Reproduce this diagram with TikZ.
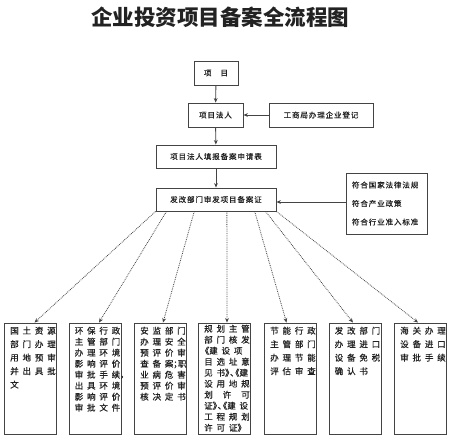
\documentclass[tikz,border=0pt]{standalone}
\usepackage{fontspec}
\newfontfamily\cjk{Noto Sans CJK SC}
\newfontfamily\cjkA[LetterSpace=12,FakeBold=0.6]{Noto Sans CJK SC}
\newfontfamily\cjkB[LetterSpace=45,FakeBold=0.6]{Noto Sans CJK SC}
\newfontfamily\cjkP[FakeBold=0.6]{Noto Sans CJK SC}
\usetikzlibrary{arrows.meta,calc}
\definecolor{ln}{HTML}{444444}
\definecolor{tx}{HTML}{222222}
\newcommand\pL[1]{\makebox[5pt][r]{\cjkP #1}}
\newcommand\pR[1]{\makebox[5pt][l]{\cjkP #1}}
\newcommand\pC[1]{\makebox[4.5pt][l]{\cjkP #1}}
\begin{document}
\begin{tikzpicture}[x=1pt,y=-1pt,
  box/.style={draw=ln,line width=0.9pt,inner sep=0pt,text=tx},
  tbox/.style={box,font=\cjkA\fontsize{7.5}{9}\selectfont,minimum height=24pt},
  bbox/.style={box,minimum width=52pt,minimum height=111pt},
  btxt/.style={anchor=north west,inner sep=0pt,align=left,text=tx,font=\cjkB\fontsize{8.5}{13.5}\selectfont},
  btxtn/.style={btxt,font=\cjkB\fontsize{8.5}{11}\selectfont},
  sarr/.style={draw=ln,line width=0.9pt,-{Stealth[length=4.5pt,width=3.8pt]}},
  darr/.style={draw=ln,line width=0.8pt,densely dotted,-{Stealth[length=4.5pt,width=3.8pt]}}]
\useasboundingbox[fill=white] (0,0) rectangle (450,437);

\node[text=tx,font=\cjk\bfseries\fontsize{21.5}{22}\selectfont] (title) at (220,17) {企业投资项目备案全流程图};

\node[tbox,minimum width=44pt] (xm) at (216,73) {项\hspace{9pt}目};
\node[tbox,minimum width=55pt] (fr) at (215.5,115) {项目法人};
\node[tbox,minimum width=104pt] (gs) at (321,115) {工商局办理企业登记};
\node[tbox,minimum width=120pt,minimum height=23pt] (tb) at (216,156.5) {项目法人填报备案申请表};
\node[tbox,minimum width=120pt,minimum height=23pt] (fg) at (216,199.5) {发改部门审发项目备案证};
\node[box,minimum width=81pt,minimum height=61pt,align=left,text width=69pt,inner xsep=6pt,
      font=\cjkA\fontsize{7.5}{18.5}\selectfont] (fh) at (386.5,203.5)
      {符合国家法律法规\\符合产业政策\\符合行业准入标准};

\draw[sarr] (xm) -- (fr);
\draw[sarr] (gs) -- (fr);
\draw[sarr] (fr) -- (tb);
\draw[sarr] (tb) -- (fg);
\draw[sarr] (fh.west |- 0,202) -- (fg.east |- 0,202);

\node[bbox] (b1) at (30.5,378.5) {};
\node[bbox] (b2) at (95,378.5) {};
\node[bbox] (b3) at (160.5,378.5) {};
\node[bbox] (b4) at (224.5,378.5) {};
\node[bbox] (b5) at (290.5,378.5) {};
\node[bbox] (b6) at (355,378.5) {};
\node[bbox] (b7) at (420.5,378.5) {};

\node[btxt] (t1) at ($(b1.north west)+(6,4)$) {国土资源\\部门办理\\用地预审\\并出具批\\文};
\node[btxtn] (t2) at ($(b2.north west)+(6,4)$) {环保行政\\主管部门\\办理环境\\影响评价\\审批手续\pC{，}\\出具环境\\影响评价\\审批文件};
\node[btxtn] (t3) at ($(b3.north west)+(6,4)$) {安监部门\\办理安全\\预评价审\\查备案\pC{；}职\\业病危害\\预评价审\\核决定书};
\node[btxtn] (t4) at ($(b4.north west)+(6,2)$) {规划主管\\部门核发\\\pL{《}建设项\\目选址意\\见书\pR{》}\pC{、}\pL{《}建\\设用地规\\\makebox[45.5pt][s]{\cjkP 划\hfill 许\hfill 可}\\证\pR{》}\pC{、}\pL{《}建设\\工程规划\\许可证\pR{》}};
\node[btxt] (t5) at ($(b5.north west)+(6,4)$) {节能行政\\主管部门\\办理节能\\评估审查};
\node[btxt] (t6) at ($(b6.north west)+(6,4)$) {发改部门\\办理进口\\设备免税\\确认书};
\node[btxt] (t7) at ($(b7.north west)+(6,4)$) {海关办理\\设备进口\\审批手续};

\draw[darr] ($(fg.south west)!0!(fg.south east)$) -- ($(b1.north)+(4,0)$);
\draw[darr] ($(fg.south west)!0.09!(fg.south east)$) -- ($(b2.north)+(4,0)$);
\draw[darr] ($(fg.south west)!0.32!(fg.south east)$) -- ($(b3.north)+(2.5,0)$);
\draw[darr] ($(fg.south west)!0.59!(fg.south east)$) -- ($(b4.north)+(2.5,0)$);
\draw[darr] ($(fg.south west)!0.82!(fg.south east)$) -- ($(b5.north)+(-4,0)$);
\draw[darr] ($(fg.south west)!0.91!(fg.south east)$) -- ($(b6.north)+(-2,0)$);
\draw[darr] ($(fg.south west)!1!(fg.south east)$) -- ($(b7.north)+(-2.5,0)$);
\end{tikzpicture}
\end{document}
